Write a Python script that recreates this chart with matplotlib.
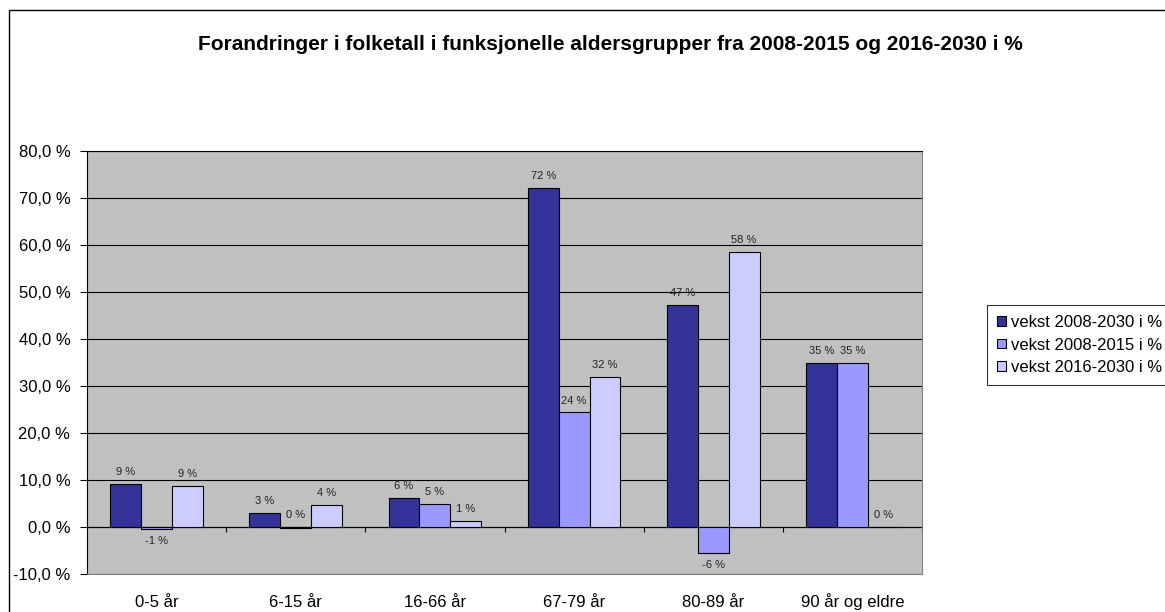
import matplotlib
matplotlib.use("Agg")
import matplotlib.pyplot as plt
from matplotlib.patches import Rectangle
import numpy as np

plt.rcParams['font.family'] = ['Liberation Sans', 'DejaVu Sans']

categories = ["0-5 år", "6-15 år", "16-66 år", "67-79 år", "80-89 år", "90 år og eldre"]
series_names = ["vekst 2008-2030 i %", "vekst 2008-2015 i %", "vekst 2016-2030 i %"]
vekst_2008_2030 = [9.1, 2.8, 6.0, 72.2, 47.3, 34.8]
vekst_2008_2015 = [-0.6, -0.3, 4.8, 24.3, -5.7, 34.8]
vekst_2016_2030 = [8.6, 4.5, 1.1, 31.9, 58.5, 0.0]
yticks = [-10, 0, 10, 20, 30, 40, 50, 60, 70, 80]

colors = ["#333399", "#9999FF", "#CCCCFF"]
all_series = [vekst_2008_2030, vekst_2008_2015, vekst_2016_2030]

fig = plt.figure(figsize=(11.65, 6.12), dpi=100)
ax = fig.add_axes([87/1165, (612-573.5)/612, (922-87)/1165, (573.5-151)/612])
ax.set_facecolor("#C0C0C0")

x = np.arange(len(categories))
w = 0.222
for i, (vals, col, name) in enumerate(zip(all_series, colors, series_names)):
    bars = ax.bar(x + (i - 1) * w, vals, w, color=col, edgecolor="black",
                  linewidth=0.8, label=name, zorder=3)
    for b, v in zip(bars, vals):
        r = int(round(v))
        cx = b.get_x() + b.get_width() / 2
        if r >= 0:
            ax.annotate(f"{r} %", (cx, max(v, 0)), xytext=(0, 5),
                        textcoords="offset points", ha="center", va="bottom",
                        fontsize=8, color="#222222", zorder=4)
        else:
            ax.annotate(f"{r} %", (cx, v), xytext=(0, -5),
                        textcoords="offset points", ha="center", va="top",
                        fontsize=8, color="#222222", zorder=4)

ax.set_ylim(-10, 80)
ax.set_xlim(-0.5, len(categories) - 0.5)
ax.set_yticks(yticks)
ax.set_yticklabels([f"{t:.1f} %".replace(".", ",") for t in yticks], fontsize=12)
ax.yaxis.grid(True, color="black", linewidth=0.8, zorder=1)
ax.set_axisbelow(True)
ax.tick_params(axis="y", length=5, width=0.8, pad=7, direction="out")

ax.set_xticks(x)
ax.set_xticklabels(categories, fontsize=12)
for lab in ax.get_xticklabels():
    lab.set_va("baseline")
ax.tick_params(axis="x", length=0, pad=24)

# zero line with category tick marks
ax.axhline(0, color="black", linewidth=0.8, zorder=2)
bounds = np.arange(len(categories) + 1) - 0.5
ax.vlines(bounds[1:], -1.2, 0, color="black", linewidth=0.8, zorder=2)

for s in ["right", "bottom"]:
    ax.spines[s].set_color("#808080")
    ax.spines[s].set_linewidth(0.8)
ax.spines["left"].set_color("black")
ax.spines["left"].set_linewidth(0.8)
ax.spines["top"].set_color("black")
ax.spines["top"].set_linewidth(0.8)

fig.text(610/1165, (612-50)/612,
         "Forandringer i folketall i funksjonelle aldersgrupper fra 2008-2015 og 2016-2030 i %",
         ha="center", va="baseline", fontsize=15, fontweight="bold")

leg = fig.legend(loc="upper left", bbox_to_anchor=(987/1165, (612-305)/612),
                 bbox_transform=fig.transFigure, fontsize=12, frameon=True,
                 fancybox=False, edgecolor="black", borderpad=0.6,
                 labelspacing=0.45, handlelength=0.55, handleheight=0.5,
                 handletextpad=0.3, borderaxespad=0)
leg.get_frame().set_linewidth(0.8)

fig.patches.append(Rectangle((9/1165, -0.1), 1.2, 1.1 + (612-10)/612 - 1.0,
                             transform=fig.transFigure, fill=False,
                             edgecolor="black", linewidth=1.0))

fig.savefig("out.png", dpi=100)
